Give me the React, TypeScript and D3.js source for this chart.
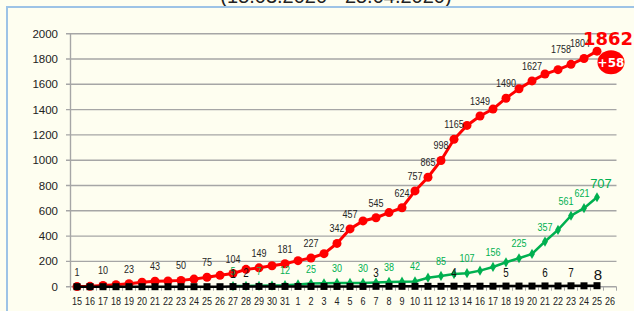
import React from 'react';
import * as d3 from 'd3';

const xLabels = [
  '15','16','17','18','19','20','21','22','23','24','25','26','27','28','29','30','31',
  '1','2','3','4','5','6','7','8','9','10','11','12','13','14',
  '16','17','18','19','20','21','22','23','24','25','26',
];

const redValues = [
  1, 3, 10, 15, 23, 36, 43, 46, 50, 60, 75, 90, 104, 137, 149, 166, 181,
  206, 227, 261, 342, 457, 520, 545, 586, 624, 757, 865, 998, 1165, 1275,
  1349, 1404, 1490, 1565, 1627, 1681, 1716, 1758, 1804, 1862,
];

const greenValues: (number | null)[] = [
  null, null, null, null, null, null, null, null, null, null, null, null, 5, 6, 7, 9, 12,
  18, 25, 27, 30, 30, 30, 33, 38, 40, 42, 71, 85, 100, 107,
  127, 156, 193, 225, 259, 357, 449, 561, 621, 707,
];

const blackValues = [
  0, 0, 0, 0, 0, 0, 0, 0, 0, 0, 0, 0, 1, 2, 2, 2, 2,
  2, 2, 2, 2, 2, 2, 3, 3, 3, 3, 3, 3, 4, 4,
  4, 4, 5, 5, 5, 6, 6, 7, 7, 8,
];

const redLabeled = [0, 2, 4, 6, 8, 10, 12, 14, 16, 18, 20, 21, 23, 25, 26, 27, 28, 29, 31, 33, 35, 38, 39];
const greenLabeled = [12, 14, 16, 18, 20, 22, 24, 26, 28, 30, 32, 34, 36, 38, 39];
const blackLabeled = [12, 13, 23, 29, 33, 36, 38];

const yTicks = [0, 200, 400, 600, 800, 1000, 1200, 1400, 1600, 1800, 2000];
const titleText = '(15.03.2020 - 25.04.2020)';
const increment = '+58';

const W = 634;
const H = 311;
const RED = '#FF0000';
const GREEN = '#00B050';
const BLACK = '#000000';
const GRID = '#A6A6A6';
const BG = '#FEFEF0';
const SANS = "'Liberation Sans', Arial, sans-serif";

function NText(props: { x: number; y: number; size: number; fill: string; sx?: number; children: React.ReactNode }) {
  const { x, y, size, fill, sx = 0.82, children } = props;
  return (
    <text transform={`translate(${x},${y}) scale(${sx},1)`} textAnchor="middle" fontFamily={SANS} fontSize={size} fill={fill}>
      {children}
    </text>
  );
}

// crowded labels near the end are nudged left (as in the reference)
const redNudge = (i: number) => (i === 38 ? -10 : i === 39 ? -4 : 0);
const greenNudge = (i: number) => (i === 38 ? -5 : i === 39 ? -2 : 0);

export default function App() {
  const x = d3.scaleBand<string>()
    .domain(xLabels.map((_, i) => String(i)))
    .range([70.5, 616.5])
    .padding(0);
  const cx = (i: number) => (x(String(i)) as number) + x.bandwidth() / 2;
  const y = d3.scaleLinear().domain([0, 2000]).range([286.7, 33.7]);

  const lineGen = d3.line<number | null>()
    .defined((d) => d !== null)
    .x((_, i) => cx(i))
    .y((d) => y(d as number));

  const last = redValues.length - 1;
  const diamond = d3.symbol().type(d3.symbolDiamond).size(30)() as string;

  return (
    <div style={{ position: 'absolute', left: 0, top: 0 }}>
      <svg width={W} height={H} style={{ display: 'block' }}>
        <rect x={0} y={0} width={W} height={H} fill={BG} />
        <text x={336} y={3} textAnchor="middle" fontFamily={SANS} fontSize={20} fill="#222">{titleText}</text>
        <rect x={7} y={7} width={W + 50} height={H + 50} fill={BG} stroke="#9DC3E6" strokeWidth={2} />

        {yTicks.filter((t) => t > 0).map((t) => (
          <line key={'g' + t} x1={66} x2={616.5} y1={y(t)} y2={y(t)} stroke={GRID} strokeWidth={1.4} />
        ))}
        <line x1={70.5} x2={70.5} y1={y(2000)} y2={y(0)} stroke={GRID} strokeWidth={1.4} />
        <line x1={66} x2={616.5} y1={y(0)} y2={y(0)} stroke={GRID} strokeWidth={1.4} />
        {yTicks.map((t) => (
          <text key={'yl' + t} x={58} y={y(t) + 4} textAnchor="end" fontFamily={SANS} fontSize={11.5} fill="#222">{t}</text>
        ))}
        {xLabels.map((_, i) => (
          <line key={'xt' + i} x1={x(String(i)) as number} x2={x(String(i)) as number} y1={y(0)} y2={y(0) + 4} stroke={GRID} strokeWidth={1} />
        ))}
        <line x1={616.5} x2={616.5} y1={y(0)} y2={y(0) + 4} stroke={GRID} strokeWidth={1} />
        {xLabels.map((l, i) => (
          <NText key={'xl' + i} x={cx(i)} y={305} size={11} fill="#222">{l}</NText>
        ))}

        <path d={lineGen(redValues) as string} fill="none" stroke={RED} strokeWidth={3} />
        {redValues.map((v, i) => (
          <circle key={'rc' + i} cx={cx(i)} cy={y(v)} r={4.5} fill={RED} />
        ))}
        <path d={lineGen(greenValues) as string} fill="none" stroke={GREEN} strokeWidth={2.5} />
        {greenValues.map((v, i) => v === null ? null : (
          <path key={'gd' + i} d={diamond} transform={`translate(${cx(i)},${y(v)})`} fill={GREEN} />
        ))}
        <path d={lineGen(blackValues) as string} fill="none" stroke={BLACK} strokeWidth={2.5} />
        {blackValues.map((v, i) => (
          <rect key={'bs' + i} x={cx(i) - 3.5} y={y(v) - 3.5} width={7} height={7} fill={BLACK} />
        ))}

        {redLabeled.map((i) => (
          <NText key={'rl' + i} x={cx(i) + redNudge(i)} y={y(redValues[i]) - 11} size={11} fill="#262626">{redValues[i]}</NText>
        ))}
        {greenLabeled.map((i) => (
          <NText key={'gl' + i} x={cx(i) + greenNudge(i)} y={y(greenValues[i] as number) - 11} size={11} fill={GREEN}>{greenValues[i]}</NText>
        ))}
        {blackLabeled.map((i) => (
          <NText key={'bl' + i} x={cx(i)} y={y(blackValues[i]) - 9} size={12} fill="#111">{blackValues[i]}</NText>
        ))}
        <text x={cx(last) + 4} y={y(greenValues[last] as number) - 9} textAnchor="middle" fontFamily={SANS} fontSize={13} fill={GREEN}>{greenValues[last]}</text>
        <text x={cx(last) + 1} y={y(blackValues[last]) - 6} textAnchor="middle" fontFamily={SANS} fontSize={15} fill="#111">{blackValues[last]}</text>
        <text x={cx(last) + 11} y={y(redValues[last]) - 6} textAnchor="middle" fontFamily="'DejaVu Sans', sans-serif" fontWeight="bold" fontSize={18} fill={RED}>{redValues[last]}</text>
        <ellipse cx={cx(last) + 14} cy={y(redValues[last]) + 11} rx={13.5} ry={12} fill={RED} />
        <text x={cx(last) + 14} y={y(redValues[last]) + 15.5} textAnchor="middle" fontFamily="'DejaVu Sans', sans-serif" fontWeight="bold" fontSize={12} fill="#fff">{increment}</text>
      </svg>
    </div>
  );
}
